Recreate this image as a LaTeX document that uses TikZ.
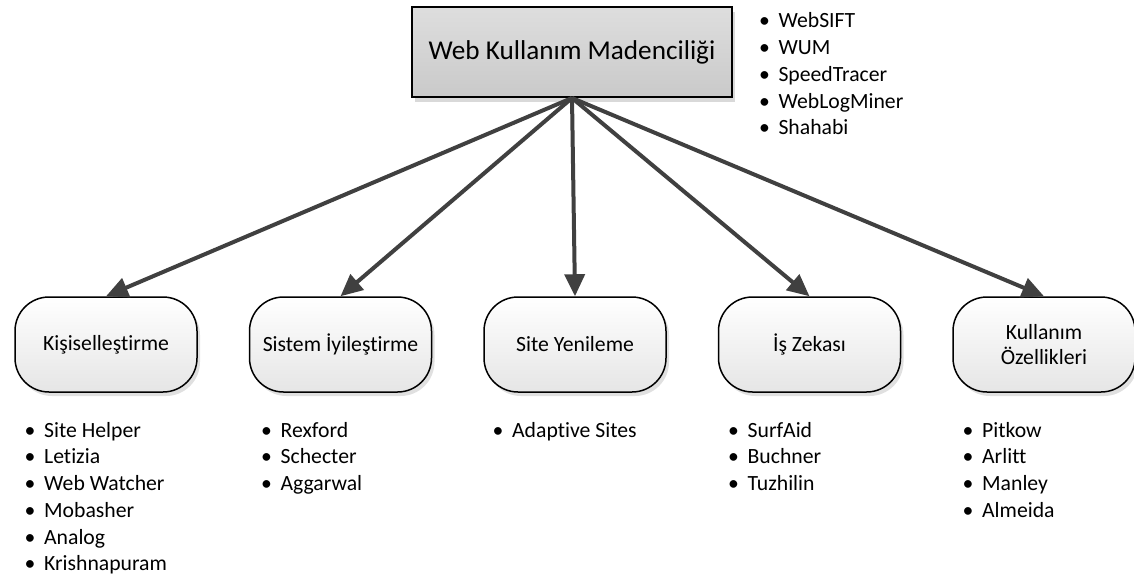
\documentclass[tikz,border=0pt]{standalone}
\usepackage{fontspec}
\setmainfont{Carlito}[Ligatures=NoCommon]
\usepackage{xcolor}
\usepackage{tikz}
\usetikzlibrary{arrows.meta,positioning,shadows}
\definecolor{argray}{HTML}{404040}
\newcommand{\bul}{\makebox[0.9em][l]{\textbullet}}

\begin{document}
\begin{tikzpicture}[x=0.5pt,y=-0.5pt,node distance=25.5pt]
    \tikzstyle{hd}=[draw,line width=1pt,minimum width=160pt,minimum height=45pt,top color=black!13,bottom color=black!21,drop shadow={shadow xshift=1.5pt,shadow yshift=-2.5pt,fill=black,opacity=0.15},font=\fontsize{13.6pt}{16pt}\selectfont]
    \tikzstyle{kt}=[draw,line width=0.75pt,rounded corners=17pt,minimum width=91pt,minimum height=47.5pt,top color=white,bottom color=black!10,drop shadow={shadow xshift=1.5pt,shadow yshift=-2pt,fill=black,opacity=0.12},align=center,font=\fontsize{10.85pt}{12.6pt}\selectfont]
    \tikzstyle{ls}=[inner sep=0pt,align=left,font=\fontsize{10.85pt}{13.35pt}\selectfont]
    \tikzstyle{ar}=[-{Triangle[length=11pt,width=10pt]},line width=2pt,draw=argray]
    \useasboundingbox (0,0) rectangle (1134,574);
    \node[hd] (wkm) at (572,52) {Web Kullanım Madenciliği};
    \node[kt] (ks) at (106,344.5) {Kişiselleştirme};
    \node[kt,right=of ks] (si) {Sistem İyileştirme};
    \node[kt,right=of si] (sy) {Site Yenileme};
    \node[kt,right=of sy] (iz) {İş Zekası};
    \node[kt,right=of iz] (ko) {Kullanım\\Özellikleri};
    \draw[ar] (wkm.south) -- (ks.north);
    \draw[ar] (wkm.south) -- (si.north);
    \draw[ar] (wkm.south) -- (sy.north);
    \draw[ar] (wkm.south) -- (iz.north);
    \draw[ar] (wkm.south) -- (ko.north);
    \node[ls,right=12.8pt of wkm.north east,anchor=north west,yshift=-3.25pt] (wkml) {\bul WebSIFT\\\bul WUM\\\bul SpeedTracer\\\bul WebLogMiner\\\bul Shahabi};
    \node[ls,below right=14.5pt and 5pt of ks.south west] (ksl) {\bul Site Helper\\\bul Letizia\\\bul Web Watcher\\\bul Mobasher\\\bul Analog\\\bul Krishnapuram};
    \node[ls,below right=14.5pt and 6pt of si.south west] (sil) {\bul Rexford\\\bul Schecter\\\bul Aggarwal};
    \node[ls,below right=14.5pt and 4.5pt of sy.south west] (syl) {\bul Adaptive Sites};
    \node[ls,below right=14.5pt and 5pt of iz.south west] (izl) {\bul SurfAid\\\bul Buchner\\\bul Tuzhilin};
    \node[ls,below right=14.5pt and 5pt of ko.south west] (kol) {\bul Pitkow\\\bul Arlitt\\\bul Manley\\\bul Almeida};
  \end{tikzpicture}
\end{document}
